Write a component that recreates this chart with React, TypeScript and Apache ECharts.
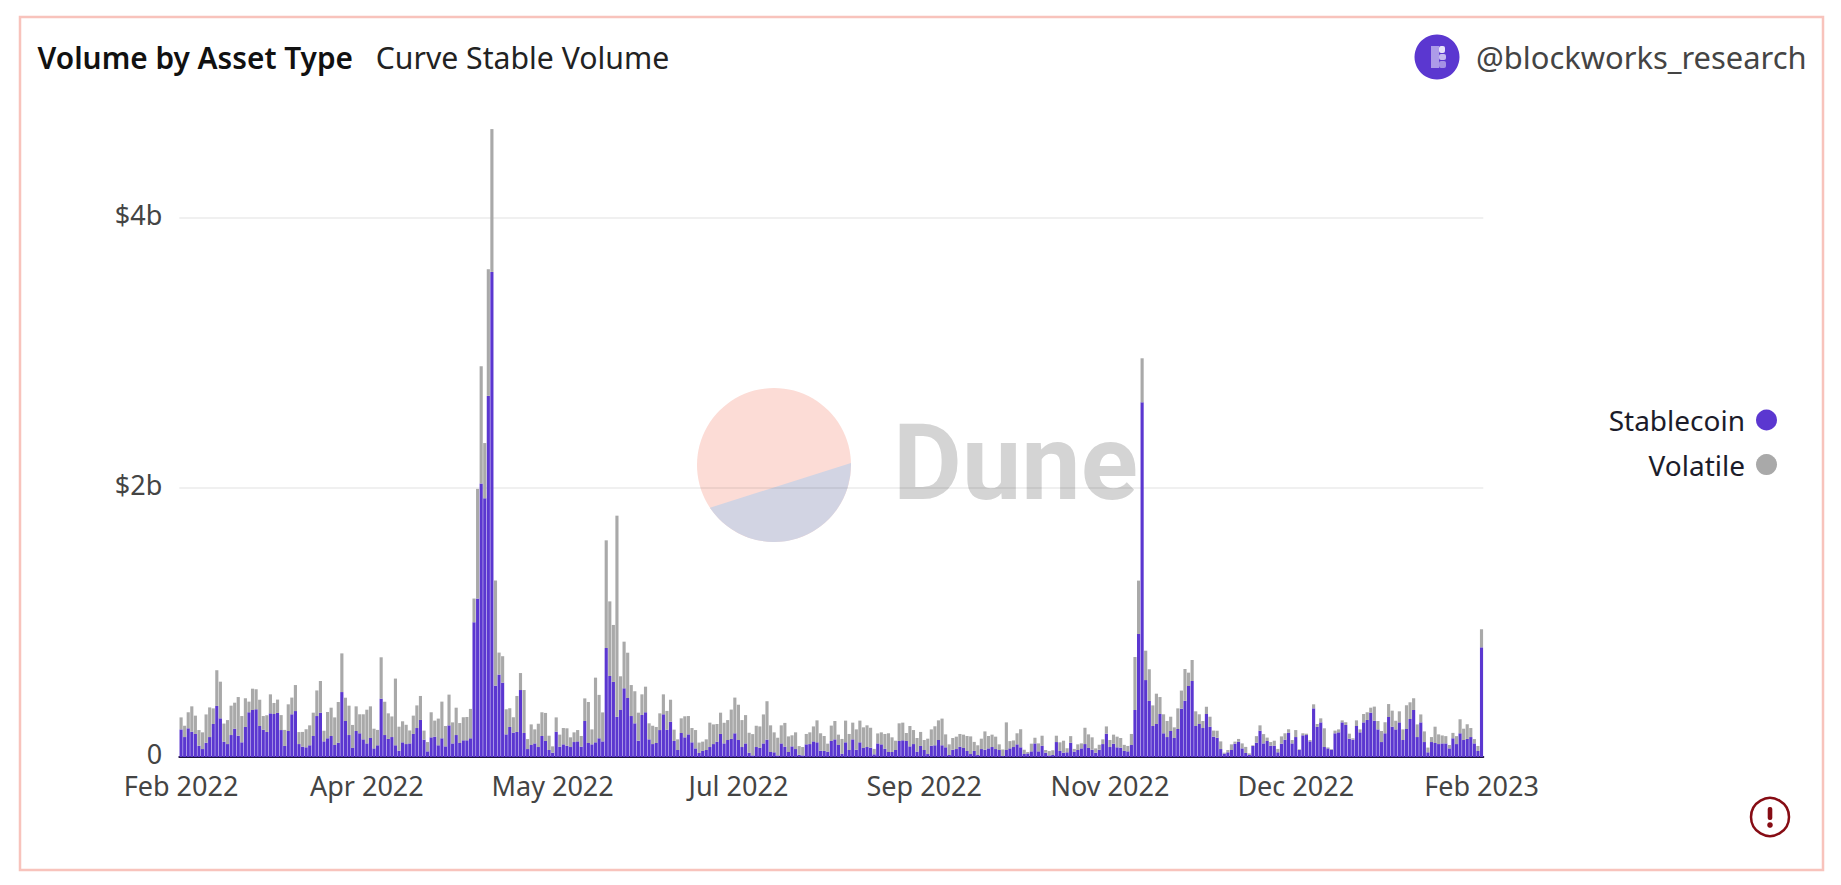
import React, { useEffect, useRef } from "react";
import * as echarts from "echarts";

const FONT = '"Noto Sans", sans-serif';
const DAY_COUNT = 365;
const FIRST_DAY_UTC = Date.UTC(2022, 1, 14);
const MONTHS = ["Jan", "Feb", "Mar", "Apr", "May", "Jun", "Jul", "Aug", "Sep", "Oct", "Nov", "Dec"];
const categories: string[] = Array.from({ length: DAY_COUNT }, (_, i) => {
  const d = new Date(FIRST_DAY_UTC + i * 86400000);
  return `${MONTHS[d.getUTCMonth()]} ${d.getUTCFullYear()}`;
});

// values in $ millions
const stablecoin = [
  205,148,213,188,171,84,59,106,148,245,379,287,114,96,163,210,158,109,223,332,349,354,230,203,186,324,319,327,200,82,
  193,317,341,96,77,72,87,156,304,329,116,139,156,89,106,482,267,163,67,193,176,131,101,141,64,87,433,163,134,148,
  87,47,109,96,101,171,215,275,129,42,146,151,87,139,79,235,101,163,104,124,124,139,1000,1176,2030,1920,2680,3600,530,612,
  552,168,223,181,186,497,178,59,89,101,74,156,119,52,32,188,77,94,84,74,111,116,77,267,104,94,109,139,116,809,
  601,557,299,349,510,438,304,250,121,312,332,131,96,104,200,317,203,262,119,52,178,146,168,109,64,30,45,52,74,96,
  114,171,101,126,134,176,126,74,101,32,12,74,69,101,129,37,35,12,101,77,37,79,59,17,12,94,96,116,109,47,
  45,40,119,131,89,25,109,52,131,54,109,67,74,69,20,101,94,62,37,37,52,119,124,119,79,96,40,82,52,22,
  84,87,126,87,72,15,54,59,77,67,45,22,45,15,59,54,64,74,59,52,7,52,64,74,94,72,22,27,42,101,
  42,84,32,12,15,111,45,32,35,106,40,52,64,96,67,54,32,54,96,173,74,99,72,69,45,42,89,349,913,2632,
  571,416,230,245,319,176,148,193,141,208,359,418,527,564,230,245,215,319,225,151,143,59,25,35,52,99,114,64,30,15,
  82,106,195,101,119,84,84,35,99,129,181,101,148,52,161,163,116,361,225,257,74,64,54,176,183,257,238,136,129,230,
  183,257,275,329,270,205,111,176,297,225,205,257,126,208,282,349,148,257,111,35,111,104,96,101,101,64,139,96,176,126,
  134,148,101,45,814,
];
const volatile = [
  89,84,119,188,136,116,124,210,220,116,265,272,134,178,218,193,287,195,213,79,158,148,195,101,124,141,82,99,111,119,
  198,124,193,89,109,134,148,173,190,235,79,195,210,205,302,287,173,218,171,183,141,186,250,235,146,114,307,247,190,153,
  495,178,156,143,96,136,168,178,67,69,186,119,198,272,151,228,156,203,148,171,173,218,176,814,870,410,940,1060,780,163,
  196,186,139,114,267,126,319,74,153,104,173,176,208,106,47,106,89,121,129,72,72,84,79,168,304,111,480,322,215,799,
  554,423,1492,250,346,336,230,238,208,153,190,119,136,119,124,148,139,163,84,79,109,156,136,106,136,77,69,79,181,146,
  131,158,153,148,218,265,262,200,210,148,158,158,158,215,285,198,148,131,134,176,116,82,124,64,62,77,87,111,163,129,
  111,59,114,136,77,109,161,119,124,151,161,153,161,148,40,74,89,109,139,109,69,131,131,59,151,104,101,104,74,114,
  121,141,146,198,96,79,87,92,94,99,111,131,67,72,77,136,92,92,92,42,49,205,54,49,82,134,32,10,57,42,
  59,74,20,32,35,47,64,89,30,49,20,42,37,121,101,92,32,37,35,54,52,67,79,72,45,40,82,393,396,327,
  218,235,153,225,126,141,119,106,79,153,134,235,99,156,109,72,52,54,74,45,52,57,7,17,42,15,20,37,45,12,
  5,49,40,69,25,27,37,25,54,47,25,25,52,5,15,10,10,30,20,30,139,7,5,20,22,15,20,37,10,42,
  22,62,57,37,104,62,82,82,96,119,64,82,79,176,124,87,94,59,79,35,37,121,72,59,54,25,40,59,104,84,
  109,67,32,37,134,
];
const yTicks: Record<number, string> = { 0: "0", 2000: "$2b", 4000: "$4b" };

const PURPLE = "#5b37d0";
const GREY = "#a9a9a9";

echarts.graphic.registerShape(
  "duneLower",
  echarts.graphic.extendPath("M 709.93 507.71 A 77 77 0 0 0 850.97 463.09 Z", {})
);

export default function App() {
  const ref = useRef<HTMLDivElement>(null);
  useEffect(() => {
    document.body.style.margin = "0";
    const chart = echarts.init(ref.current!, undefined, { renderer: "svg" });
    chart.setOption({
      animation: false,
      backgroundColor: "#fff",
      textStyle: { fontFamily: FONT },
      title: [
        { text: "Volume by Asset Type", left: 32.6, top: 37.7, textStyle: { fontFamily: FONT, fontSize: 29.8, fontWeight: 600, color: "#111" } },
        { text: "Curve Stable Volume", left: 370.7, top: 37.7, textStyle: { fontFamily: FONT, fontSize: 30.2, fontWeight: 400, color: "#222" } },
      ],
      legend: {
        orient: "vertical",
        align: "right",
        right: 64,
        top: 406,
        itemWidth: 21,
        itemHeight: 21,
        itemGap: 16.6,
        padding: 0,
        icon: "circle",
        textStyle: { fontFamily: FONT, fontSize: 28, color: "#1c1c2a", padding: [0, 6, 0, 0] },
        data: ["Stablecoin", "Volatile"],
      },
      grid: { left: 179.3, top: 123.7, width: 1304, height: 633.3, containLabel: false },
      xAxis: {
        type: "category",
        data: categories,
        axisTick: { show: false },
        axisLine: { lineStyle: { color: "#1d1440", width: 2 } },
        axisLabel: {
          interval: 51,
          margin: 14.5,
          fontFamily: FONT,
          fontSize: 27,
          color: "#444",
          hideOverlap: false,
          showMinLabel: true,
          showMaxLabel: true,
        },
      },
      yAxis: {
        type: "value",
        min: 0,
        max: 4700,
        interval: 2000,
        axisLine: { show: false },
        axisTick: { show: false },
        splitLine: { showMaxLine: false, showMinLine: false, lineStyle: { color: "rgba(0,0,0,0.06)", width: 2 } },
        axisLabel: {
          margin: 17,
          fontFamily: FONT,
          fontSize: 27,
          lineHeight: 20,
          color: "#444",
          showMaxLabel: false,
          formatter: (v: number) => (yTicks[v] ? `{t|${yTicks[v]}}` : ""),
          rich: {
            t: { fontFamily: FONT, fontSize: 27, lineHeight: 20, color: "#444", padding: [0, 0, 7, 0] },
          },
        },
      },
      series: [
        { name: "Stablecoin", type: "bar", stack: "v", data: stablecoin, barWidth: "88%", itemStyle: { color: PURPLE } },
        { name: "Volatile", type: "bar", stack: "v", data: volatile, barWidth: "88%", itemStyle: { color: GREY } },
      ],
      graphic: [
        { type: "rect", z: -2, silent: true, shape: { x: 20, y: 17, width: 1803, height: 853 }, style: { fill: "none", stroke: "#f8c3bc", lineWidth: 2.5 } },
        { type: "circle", z: -1, silent: true, shape: { cx: 774, cy: 465, r: 77 }, style: { fill: "#fcdcd6" } },
        { type: "duneLower", z: -1, silent: true, style: { fill: "#d2d4e3" } },
        { type: "text", z: -1, silent: true, x: 893, y: 410, style: { text: "Dune", fontFamily: "Roboto, sans-serif", fontWeight: 700, fontSize: 106, fill: "#d4d4d4" } },
        { type: "circle", shape: { cx: 1437, cy: 57, r: 22.5 }, style: { fill: PURPLE } },
        { type: "rect", shape: { x: 1431, y: 46, width: 8, height: 22 }, style: { fill: "rgba(255,255,255,0.5)" } },
        { type: "rect", shape: { x: 1439, y: 46, width: 6, height: 7, r: 2 }, style: { fill: "rgba(255,255,255,0.85)" } },
        { type: "rect", shape: { x: 1439, y: 54, width: 7, height: 6, r: 2 }, style: { fill: "rgba(255,255,255,0.65)" } },
        { type: "rect", shape: { x: 1439, y: 61, width: 7, height: 7, r: 2 }, style: { fill: "rgba(255,255,255,0.45)" } },
        { type: "text", x: 1476, y: 57, style: { text: "@blockworks_research", fontFamily: FONT, fontSize: 30.9, fill: "#444", verticalAlign: "middle" } },
        { type: "circle", shape: { cx: 1770, cy: 817, r: 19 }, style: { fill: "none", stroke: "#860c14", lineWidth: 2.5 } },
        { type: "rect", shape: { x: 1767.7, y: 807, width: 4.6, height: 13, r: 2 }, style: { fill: "#860c14" } },
        { type: "circle", shape: { cx: 1770, cy: 825, r: 2.8 }, style: { fill: "#860c14" } },
      ],
    });
    return () => chart.dispose();
  }, []);
  return <div ref={ref} style={{ width: 1841, height: 885, position: "absolute", left: 0, top: 0 }} />;
}
